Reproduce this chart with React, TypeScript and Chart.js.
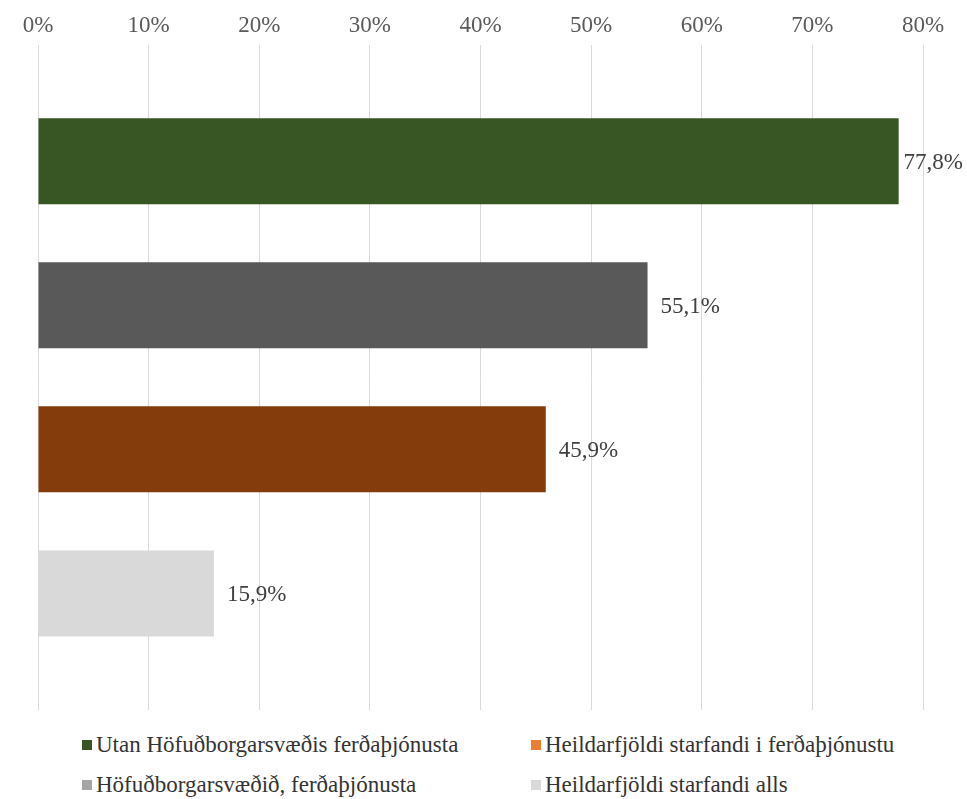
import React, { useEffect, useRef } from "react";
import { Chart, registerables } from "chart.js";

Chart.register(...registerables);

const categories = [""];
const seriesNames = [
  "Utan Höfuðborgarsvæðis ferðaþjónusta",
  "Höfuðborgarsvæðið, ferðaþjónusta",
  "Heildarfjöldi starfandi i ferðaþjónustu",
  "Heildarfjöldi starfandi alls",
];
const seriesValues = [77.8, 55.1, 45.9, 15.9];
const barColors = ["#375623", "#595959", "#843C0C", "#D9D9D9"];
const legendColors = ["#375623", "#A5A5A5", "#ED7D31", "#D9D9D9"];
const tickValues = [0, 10, 20, 30, 40, 50, 60, 70, 80];
// legend order: row-major, two columns
const legendOrder = [0, 2, 1, 3];

const FONT = "'Liberation Serif', 'Times New Roman', serif";

const labelPlugin = {
  id: "valueLabels",
  afterDatasetsDraw(chart: any) {
    const ctx = chart.ctx;
    ctx.save();
    ctx.font = `23px ${FONT}`;
    ctx.fillStyle = "#404040";
    ctx.textBaseline = "middle";
    ctx.textAlign = "left";
    chart.data.datasets.forEach((ds: any, i: number) => {
      const meta = chart.getDatasetMeta(i);
      const el = meta.data[0];
      if (!el) return;
      const txt = ds.data[0].toFixed(1).replace(".", ",") + "%";
      const w = ctx.measureText(txt).width;
      let x = el.x + 13;
      if (x + w > chart.width - 4) x = chart.width - 4 - w;
      ctx.fillText(txt, x, el.y + 2);
    });
    ctx.restore();
  },
};

export default function App() {
  const ref = useRef<HTMLCanvasElement>(null);
  useEffect(() => {
    if (!ref.current) return;
    const chart = new Chart(ref.current, {
      type: "bar",
      data: {
        labels: categories,
        datasets: seriesNames.map((name, i) => ({
          label: name,
          data: [seriesValues[i]],
          backgroundColor: barColors[i],
          borderWidth: 0,
          categoryPercentage: 0.866,
          barPercentage: 0.597,
        })),
      },
      options: {
        indexAxis: "y",
        animation: false,
        responsive: false,
        maintainAspectRatio: false,
        layout: { padding: { left: 38, right: 44, top: 7, bottom: 10 } },
        scales: {
          x: {
            position: "top",
            min: 0,
            max: 80,
            afterBuildTicks: (scale: any) => {
              scale.ticks = tickValues.map((v) => ({ value: v }));
            },
            ticks: {
              callback: (v: any) => `${v}%`,
              font: { family: FONT, size: 23 },
              color: "#595959",
              padding: 5,
              maxRotation: 0,
              autoSkip: false,
            },
            grid: { color: "#D9D9D9", lineWidth: 1, drawTicks: false },
            border: { display: false },
          },
          y: { display: false },
        },
        plugins: {
          legend: { display: false },
          tooltip: { enabled: false },
        },
      },
      plugins: [labelPlugin],
    });
    return () => chart.destroy();
  }, []);

  const legendPos = [
    { left: 82, top: 731 },
    { left: 531, top: 731 },
    { left: 82, top: 771 },
    { left: 531, top: 771 },
  ];

  return (
    <div style={{ position: "absolute", left: 0, top: 0, width: 967, height: 799, background: "#fff" }}>
      <canvas ref={ref} width={967} height={720} style={{ display: "block", width: 967, height: 720 }} />
      {legendOrder.map((idx, k) => (
        <div
          key={idx}
          style={{
            position: "absolute",
            left: legendPos[k].left,
            top: legendPos[k].top,
            display: "flex",
            alignItems: "center",
            fontFamily: FONT,
            fontSize: 23,
            color: "#333333",
            whiteSpace: "nowrap",
            lineHeight: "28px",
          }}
        >
          <span style={{ display: "inline-block", width: 10, height: 10, background: legendColors[idx], marginRight: 4 }} />
          <span>{seriesNames[idx]}</span>
        </div>
      ))}
    </div>
  );
}
